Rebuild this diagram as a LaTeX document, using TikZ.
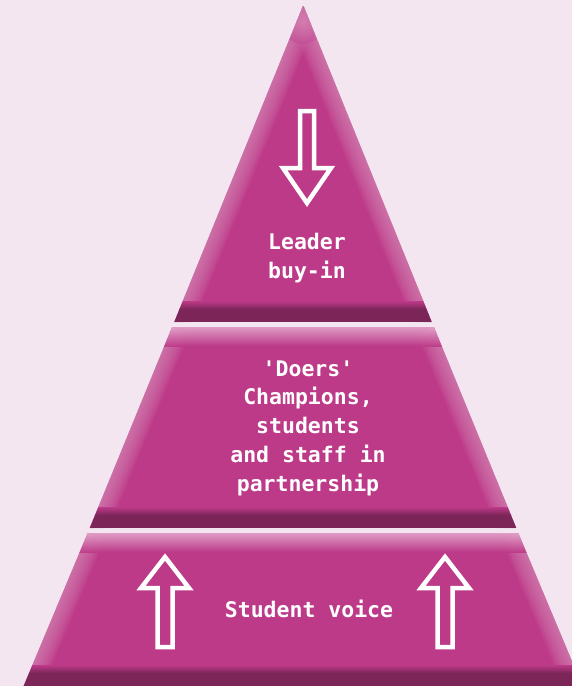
\documentclass[tikz,border=0pt]{standalone}
\usepackage{fontspec}
\newfontfamily\labfont{DejaVu Sans Mono}
\definecolor{bgpink}{HTML}{F3E6F0}
\definecolor{tierbase}{HTML}{BD3A89}
\definecolor{tierdark}{HTML}{7C2559}
\definecolor{tierlight}{HTML}{E3A6CB}
\definecolor{tieredge}{HTML}{D98AB9}
\tikzset{
  lbl/.style={text=white, font=\labfont\bfseries\fontsize{21.5}{28.8}\selectfont, align=center, inner sep=0pt},
  hollow/.style={draw=white, line width=4.5pt, line join=miter, fill=none},
}
\newcommand{\tierdeco}[6]{%
  \begin{scope}
    \clip #1 -- #2 -- #3 -- #4 -- cycle;
    \fill[tierbase] (0,#5) rectangle (572,#6);
    \foreach \w in {36,33,...,3} {
      \draw[tieredge, line width=\w pt, opacity=0.09] #1 -- #4;
      \draw[tieredge, line width=\w pt, opacity=0.09] #2 -- #3;
    }
    \shade[top color=tierbase, bottom color=tierdark] (0,#6-21) rectangle (572,#6-13);
    \fill[tierdark] (0,#6-13.2) rectangle (572,#6);
  \end{scope}}
\begin{document}
\begin{tikzpicture}[x=1pt, y=-1pt]
\fill[bgpink] (0,0) rectangle (572,686);
\useasboundingbox (0,0) rectangle (572,686);
% top tier
\tierdeco{(303,6)}{(303.5,6)}{(431.7,322)}{(174.3,322)}{0}{322}
\begin{scope}
  \clip (303,6) -- (431.7,322) -- (174.3,322) -- cycle;
  \shade[inner color=tieredge, outer color=tierbase, opacity=0.35] (303,22) circle (22);
\end{scope}
% middle tier
\tierdeco{(172.2,327)}{(433.8,327)}{(516.2,528)}{(89.8,528)}{327}{528}
\begin{scope}
  \clip (172.2,327) -- (433.8,327) -- (516.2,528) -- (89.8,528) -- cycle;
  \shade[top color=tierlight, bottom color=tierbase, opacity=0.9] (0,327) rectangle (572,346);
\end{scope}
% bottom tier
\tierdeco{(87.8,533)}{(518.2,533)}{(584,690)}{(22,690)}{533}{686}
\begin{scope}
  \clip (87.8,533) -- (518.2,533) -- (584,690) -- (22,690) -- cycle;
  \shade[top color=tierlight, bottom color=tierbase, opacity=0.9] (0,533) rectangle (572,552);
\end{scope}
% arrows
\draw[hollow] (300,111) -- (314,111) -- (314,168) -- (331,168) -- (307,203) -- (283,168) -- (300,168) -- cycle;
\draw[hollow] (165,557) -- (189,588) -- (172.5,588) -- (172.5,647) -- (157.5,647) -- (157.5,588) -- (141,588) -- cycle;
\draw[hollow] (445,557) -- (469,588) -- (452.5,588) -- (452.5,647) -- (437.5,647) -- (437.5,588) -- (421,588) -- cycle;
% labels
\node[lbl] (t1) at (307,258) {Leader\\buy-in};
\node[lbl] (t2) at (308,428) {'Doers'\\Champions,\\students\\and staff in\\partnership};
\node[lbl] (t3) at (309,609) {Student voice};
\end{tikzpicture}
\end{document}
